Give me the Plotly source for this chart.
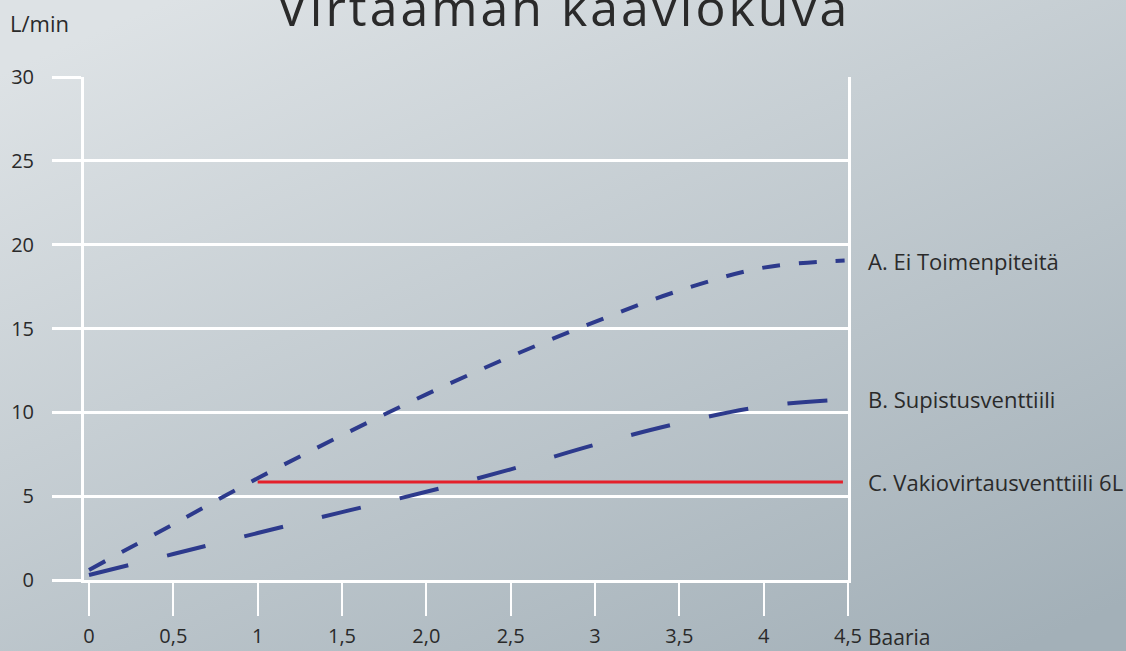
import base64
import plotly.graph_objects as go

# ---- data ----
pressure = [0, 0.5, 1, 1.5, 2, 2.5, 3, 3.5, 4, 4.48]
flow_a = [0.6, 3.33, 6.07, 8.63, 11.07, 13.33, 15.4, 17.26, 18.63, 19.05]
flow_b = [0.3, 1.55, 2.8, 4.05, 5.26, 6.6, 8.07, 9.36, 10.36, 10.77]
pressure_c = [1, 4.47]
flow_c = [5.85, 5.85]

name_a = "A. Ei Toimenpiteitä"
name_b = "B. Supistusventtiili"
name_c = "C. Vakiovirtausventtiili 6L"

x_tickvals = [0, 0.5, 1, 1.5, 2, 2.5, 3, 3.5, 4, 4.5]
x_ticktext = ["0", "0,5", "1", "1,5", "2,0", "2,5", "3", "3,5", "4", "4,5"]
y_tickvals = [0, 5, 10, 15, 20, 25, 30]
y_ticktext = ["0", "5", "10", "15", "20", "25", "30"]

title_text = "Virtaaman kaaviokuva"
x_title = "Baaria"
y_title = "L/min"

# ---- style ----
FONT = "Open Sans"
TEXT = "#2a2a2a"
NAVY = "#2d3a8c"
RED = "#e4202a"
W, H = 1126, 651
ML, MR, MT, MB = 84, 278, 77, 71
pw = W - ML - MR
ph = H - MT - MB
X0_PX = 89                      # pixel where pressure 0 sits
PX_PER_X = (ML + pw - X0_PX) / 4.5
X_MIN = -(X0_PX - ML) / PX_PER_X

svg = (
    f'<svg xmlns="http://www.w3.org/2000/svg" width="{W}" height="{H}" '
    f'viewBox="0 0 {W} {H}" preserveAspectRatio="none">'
    '<defs><linearGradient id="g" x1="0.15" y1="0" x2="0.9" y2="1">'
    '<stop offset="0" stop-color="#dde2e5"/>'
    '<stop offset="1" stop-color="#a3b0b8"/>'
    '</linearGradient></defs>'
    f'<rect width="{W}" height="{H}" fill="url(#g)"/></svg>'
)
bg_src = "data:image/svg+xml;base64," + base64.b64encode(svg.encode()).decode()

fig = go.Figure()
fig.add_trace(go.Scatter(x=pressure, y=flow_a, mode="lines", name=name_a,
                         line=dict(color=NAVY, width=4, dash="18px,19px", shape="spline")))
fig.add_trace(go.Scatter(x=pressure, y=flow_b, mode="lines", name=name_b,
                         line=dict(color=NAVY, width=4, dash="40px,40px", shape="spline")))
fig.add_trace(go.Scatter(x=pressure_c, y=flow_c, mode="lines", name=name_c,
                         line=dict(color=RED, width=3)))

annotations = []
for xs, ys, label in [(pressure, flow_a, name_a), (pressure, flow_b, name_b),
                      (pressure_c, flow_c, name_c)]:
    annotations.append(dict(x=xs[-1], y=ys[-1], xref="x", yref="y", text=label,
                            showarrow=False, xanchor="left", yanchor="middle",
                            xshift=(4.5 - xs[-1]) * PX_PER_X + 18,
                            font=dict(family=FONT, size=22, color=TEXT)))
annotations.append(dict(x=4.5, y=0, xref="x", yref="paper", text=x_title,
                        showarrow=False, xanchor="left", yanchor="middle",
                        xshift=18, yshift=-57,
                        font=dict(family=FONT, size=21, color=TEXT)))
annotations.append(dict(x=(8 - ML) / pw, y=(H - MB - 23) / ph, xref="paper", yref="paper",
                        text=y_title, showarrow=False, xanchor="left", yanchor="middle",
                        font=dict(family=FONT, size=22, color=TEXT)))
annotations.append(dict(x=(563 - ML) / pw, y=(H - MB - 7) / ph, xref="paper", yref="paper",
                        text=f'<span style="letter-spacing:3px">{title_text}</span>',
                        showarrow=False, xanchor="center", yanchor="middle",
                        font=dict(family=FONT, size=50, color=TEXT)))

fig.update_layout(
    width=W, height=H,
    margin=dict(l=ML, r=MR, t=MT, b=MB, pad=0, autoexpand=False),
    paper_bgcolor="#c3ccd1",
    plot_bgcolor="rgba(0,0,0,0)",
    showlegend=False,
    annotations=annotations,
    images=[dict(source=bg_src, xref="paper", yref="paper",
                 x=-ML / pw, y=1 + MT / ph, sizex=W / pw, sizey=H / ph,
                 xanchor="left", yanchor="top", sizing="stretch", layer="below")],
    xaxis=dict(range=[X_MIN, 4.5], showgrid=False, zeroline=False, automargin=False,
               showline=True, linecolor="white", linewidth=2.5,
               tickmode="array", tickvals=x_tickvals, ticktext=x_ticktext,
               ticks="outside", ticklen=33, tickwidth=2, tickcolor="white",
               ticklabelstandoff=3,
               tickfont=dict(family=FONT, size=20, color=TEXT)),
    yaxis=dict(range=[0, 30], showgrid=True, gridcolor="white", gridwidth=2.5,
               zeroline=False, automargin=False,
               showline=True, mirror=True, linecolor="white", linewidth=3,
               tickmode="array", tickvals=y_tickvals, ticktext=y_ticktext,
               ticks="outside", ticklen=29, tickwidth=2.5, tickcolor="white",
               ticklabelstandoff=14,
               tickfont=dict(family=FONT, size=20, color=TEXT)),
)

fig.write_html("out.html", config={"displayModeBar": False},
               post_script="document.body.style.margin='0';document.body.style.overflow='hidden';")
